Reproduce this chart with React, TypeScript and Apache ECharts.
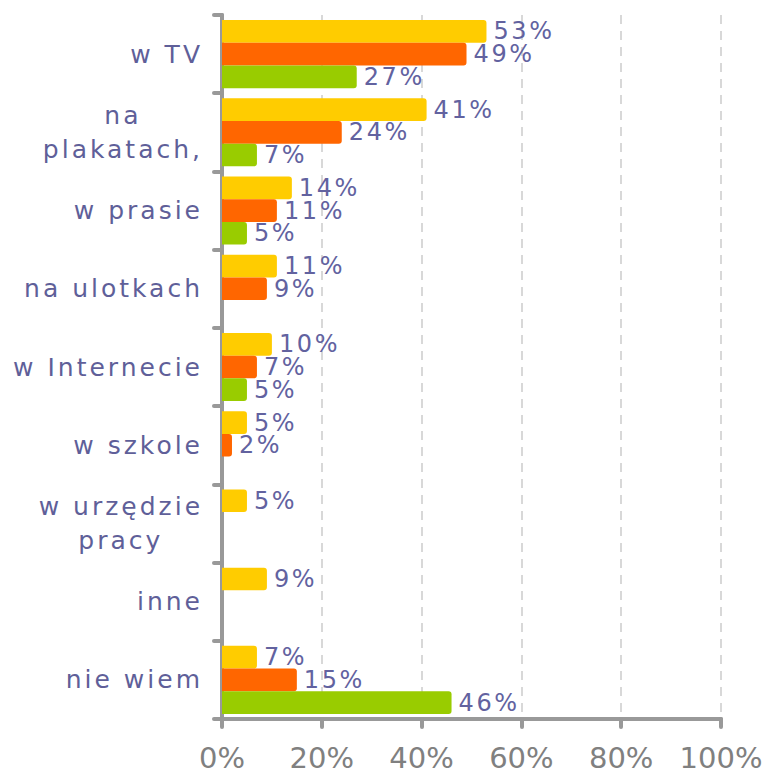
import React, { useEffect, useRef } from "react";
import * as echarts from "echarts";

const categories = [
  "w TV",
  "na\nplakatach,",
  "w prasie",
  "na ulotkach",
  "w Internecie",
  "w szkole",
  "w urzędzie\npracy",
  "inne",
  "nie wiem",
];
const seriesYellow = [53, 41, 14, 11, 10, 5, 5, 9, 7];
const seriesOrange = [49, 24, 11, 9, 7, 2, null, null, 15];
const seriesGreen = [27, 7, 5, null, 5, null, null, null, 46];
const xTicks = [0, 20, 40, 60, 80, 100];

const catColor = "#5F5F99";
const valColor = "#62629F";
const tickColor = "#808080";
const catSpacing = 3;
const valSpacing = 2.6;

export default function App() {
  const ref = useRef<HTMLDivElement>(null);
  useEffect(() => {
    if (!ref.current) return;
    const el = ref.current;
    const chart = echarts.init(el, null, { renderer: "svg" });

    const toRgb = (hex: string) => {
      const h = hex.replace("#", "");
      return `rgb(${parseInt(h.slice(0, 2), 16)}, ${parseInt(h.slice(2, 4), 16)}, ${parseInt(h.slice(4, 6), 16)})`;
    };
    const catRgb = toRgb(catColor);
    const valRgb = toRgb(valColor);
    const applySpacing = () => {
      el.querySelectorAll("text").forEach((t) => {
        const f = getComputedStyle(t).fill;
        if (f === catRgb) t.setAttribute("letter-spacing", String(catSpacing));
        else if (f === valRgb) t.setAttribute("letter-spacing", String(valSpacing));
      });
    };

    const mkSeries = (data: (number | null)[], color: string) => ({
      type: "bar",
      data,
      barGap: "0%",
      barCategoryGap: "13%",
      itemStyle: { color, borderRadius: [0, 3, 3, 0] },
      label: {
        show: true,
        position: "right",
        distance: 7,
        color: valColor,
        fontFamily: "DejaVu Sans",
        fontSize: 24,
        formatter: (p: any) => p.value + "%",
      },
    });
    chart.on("finished", applySpacing);
    chart.setOption({
      animation: false,
      grid: { left: 222, right: 48, top: 15, bottom: 56, containLabel: false },
      xAxis: {
        type: "value",
        min: xTicks[0],
        max: xTicks[xTicks.length - 1],
        interval: 20,
        axisLine: { show: true, lineStyle: { color: "#999999", width: 4, cap: "round" } },
        axisTick: { show: true, length: 8, lineStyle: { color: "#999999", width: 4, cap: "round" } },
        axisLabel: {
          color: tickColor,
          fontFamily: "DejaVu Sans",
          fontSize: 29,
          margin: 24,
          formatter: (v: number) => v + "%",
        },
        splitLine: { show: true, lineStyle: { color: "#CCCCCC", type: [9, 7], width: 1.5 } },
      },
      yAxis: {
        type: "category",
        data: categories,
        inverse: true,
        axisLine: { show: true, lineStyle: { color: "#999999", width: 4, cap: "round" } },
        axisTick: { show: true, length: 8, lineStyle: { color: "#999999", width: 4, cap: "round" } },
        axisLabel: {
          interval: 0,
          color: catColor,
          fontFamily: "DejaVu Sans",
          fontSize: 25,
          margin: 19,
          lineHeight: 34,
          formatter: (v: string) =>
            v.indexOf("\n") < 0
              ? v
              : v
                  .split("\n")
                  .map((s) => "{c|" + s + "}{s| }")
                  .join("\n"),
          rich: {
            c: {
              align: "center",
              color: catColor,
              fontFamily: "DejaVu Sans",
              fontSize: 25,
              lineHeight: 34,
            },
            s: {
              align: "right",
              width: 15,
              color: catColor,
              fontFamily: "DejaVu Sans",
              fontSize: 25,
              lineHeight: 34,
            },
          },
        },
        splitLine: { show: false },
      },
      series: [
        mkSeries(seriesYellow, "#FFCC00"),
        mkSeries(seriesOrange, "#FF6600"),
        mkSeries(seriesGreen, "#99CC00"),
      ],
    });
    applySpacing();
    const raf = requestAnimationFrame(applySpacing);
    return () => {
      cancelAnimationFrame(raf);
      chart.dispose();
    };
  }, []);
  return (
    <div
      ref={ref}
      style={{ position: "fixed", left: 0, top: 0, width: 769, height: 775, background: "#fff" }}
    />
  );
}
